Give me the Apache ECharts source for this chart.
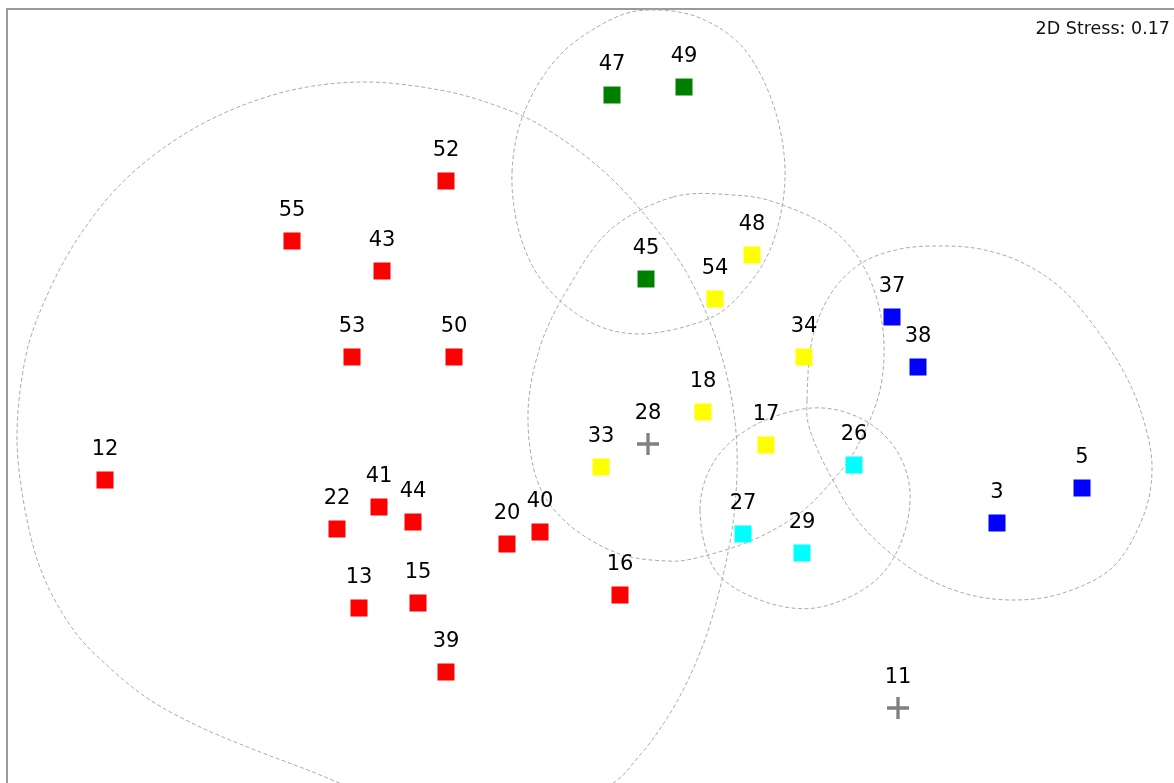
<!DOCTYPE html>
<html>
<head>
<meta charset="utf-8">
<title>NMDS ordination</title>
<script src="https://cdn.jsdelivr.net/npm/echarts@6/dist/echarts.min.js"></script>
<style>
  html, body { margin: 0; padding: 0; background: #ffffff; }
  #chart { width: 1174px; height: 783px; }
</style>
</head>
<body>
<div id="chart"></div>
<script>
// Ordination scores (axis units), one array per group: [x, y, sample id]
const groupRed = [
  [439, 172, '52'], [285, 232, '55'], [375, 262, '43'], [345, 348, '53'],
  [447, 348, '50'], [98, 471, '12'], [372, 498, '41'], [330, 520, '22'],
  [406, 513, '44'], [500, 535, '20'], [533, 523, '40'], [352, 599, '13'],
  [411, 594, '15'], [439, 663, '39'], [613, 586, '16']
];
const groupGreen = [[605, 86, '47'], [677, 78, '49'], [639, 270, '45']];
const groupYellow = [
  [745, 246, '48'], [708, 290, '54'], [797, 348, '34'],
  [696, 403, '18'], [759, 436, '17'], [594, 458, '33']
];
const groupCyan = [[847, 456, '26'], [736, 525, '27'], [795, 544, '29']];
const groupBlue = [[885, 308, '37'], [911, 358, '38'], [1075, 479, '5'], [990, 514, '3']];
const ungrouped = [[641, 435, '28'], [891, 699, '11']];

// Similarity contours, outline vertices in axis units
const contourRed = [
  [10, 431], [18, 351], [38, 291], [73, 226], [123, 166], [193, 116], [273, 84],
  [353, 73], [433, 81], [493, 98], [538, 119], [593, 159], [638, 206], [678, 261],
  [706, 321], [723, 381], [730, 441], [727, 506], [715, 571], [696, 636], [668, 696],
  [633, 746], [593, 781], [493, 806], [393, 795], [293, 758], [243, 739], [193, 718],
  [143, 691], [103, 659], [68, 623], [38, 571], [20, 511]
];
const contourGreen = [
  [505, 163], [518, 101], [553, 46], [603, 11], [643, 1], [693, 9], [738, 41],
  [768, 101], [778, 171], [763, 241], [728, 291], [693, 313], [633, 325],
  [583, 313], [538, 276], [513, 226]
];
const contourYellow = [
  [666, 188], [726, 186], [770, 194], [826, 221], [860, 264], [876, 321], [873, 381],
  [850, 438], [826, 471], [793, 504], [746, 531], [693, 548], [660, 552], [610, 544],
  [560, 514], [530, 471], [521, 404], [533, 338], [560, 281], [603, 221]
];
const contourCyan = [
  [693, 501], [708, 451], [748, 416], [805, 399], [853, 409], [888, 439],
  [903, 483], [893, 536], [863, 576], [808, 599], [753, 591], [708, 561]
];
const contourBlue = [
  [800, 391], [805, 331], [823, 286], [853, 255], [893, 240], [938, 237],
  [978, 241], [1018, 255], [1056, 281], [1090, 321], [1120, 369], [1138, 416],
  [1145, 461], [1136, 508], [1106, 558], [1056, 584], [1006, 591], [956, 584],
  [906, 561], [856, 518], [823, 466], [803, 421]
];

const stressText = '2D Stress: 0.17';

const FONT = '"DejaVu Sans", "Liberation Sans", sans-serif';
const PLUS = 'path://M8.5,0h3v8.5h8.5v3h-8.5v8.5h-3v-8.5h-8.5v-3h8.5z';

function pointSeries(name, data, color, symbol, size) {
  return {
    name: name,
    type: 'scatter',
    data: data,
    symbol: symbol,
    symbolSize: size,
    itemStyle: { color: color, opacity: 1 },
    label: {
      show: true,
      position: 'top',
      distance: symbol === 'rect' ? 11 : 9,
      formatter: p => p.value[2],
      fontFamily: FONT,
      fontSize: 21,
      color: '#000000'
    },
    emphasis: { disabled: true },
    z: 5
  };
}

// Closed Catmull-Rom outline through the projected vertices
function closedOutline(P) {
  const n = P.length;
  let d = 'M' + P[0][0] + ',' + P[0][1];
  for (let i = 0; i < n; i++) {
    const p0 = P[(i - 1 + n) % n], p1 = P[i], p2 = P[(i + 1) % n], p3 = P[(i + 2) % n];
    const c1x = p1[0] + (p2[0] - p0[0]) / 6, c1y = p1[1] + (p2[1] - p0[1]) / 6;
    const c2x = p2[0] - (p3[0] - p1[0]) / 6, c2y = p2[1] - (p3[1] - p1[1]) / 6;
    d += 'C' + c1x + ',' + c1y + ',' + c2x + ',' + c2y + ',' + p2[0] + ',' + p2[1];
  }
  return d + 'Z';
}

function contourSeries(name, pts) {
  return {
    name: name,
    type: 'custom',
    coordinateSystem: 'cartesian2d',
    silent: true,
    data: [[pts[0][0], pts[0][1]]],
    renderItem: function (params, api) {
      return {
        type: 'path',
        shape: { pathData: closedOutline(pts.map(p => api.coord(p))) },
        style: { fill: null, stroke: '#ababab', lineWidth: 1, lineDash: [4, 2.5] }
      };
    },
    z: 2
  };
}

const frameLine = { show: true, onZero: false, lineStyle: { color: '#9a9a9a', width: 2 } };

const chart = echarts.init(document.getElementById('chart'));
chart.setOption({
  backgroundColor: '#ffffff',
  animation: false,
  title: {
    text: stressText,
    right: 4,
    top: 20,
    padding: 0,
    textStyle: { fontFamily: FONT, fontSize: 17.5, fontWeight: 'normal', color: '#111111' }
  },
  grid: { left: 7, top: 9, right: 0, bottom: 0 },
  xAxis: {
    type: 'value', min: 0, max: 1167, position: 'top',
    axisLine: frameLine, axisTick: { show: false },
    axisLabel: { show: false }, splitLine: { show: false }
  },
  yAxis: {
    type: 'value', min: 0, max: 774, inverse: true, position: 'left',
    axisLine: frameLine, axisTick: { show: false },
    axisLabel: { show: false }, splitLine: { show: false }
  },
  series: [
    contourSeries('c-red', contourRed),
    contourSeries('c-green', contourGreen),
    contourSeries('c-yellow', contourYellow),
    contourSeries('c-cyan', contourCyan),
    contourSeries('c-blue', contourBlue),
    pointSeries('red', groupRed, '#ff0000', 'rect', 17),
    pointSeries('green', groupGreen, '#008000', 'rect', 17),
    pointSeries('yellow', groupYellow, '#ffff00', 'rect', 17),
    pointSeries('cyan', groupCyan, '#00ffff', 'rect', 17),
    pointSeries('blue', groupBlue, '#0000ff', 'rect', 17),
    pointSeries('none', ungrouped, '#808080', PLUS, 22)
  ]
});
</script>
</body>
</html>
